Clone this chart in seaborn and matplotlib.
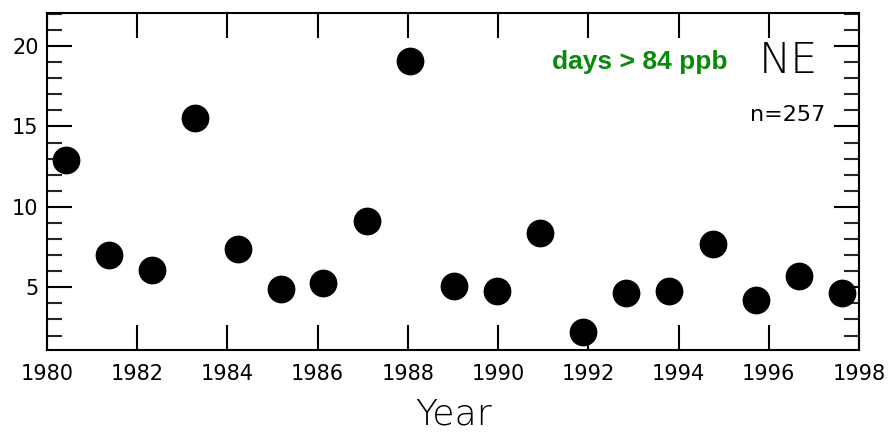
import numpy as np
import pandas as pd
import seaborn as sns
import matplotlib.pyplot as plt
from matplotlib.ticker import MultipleLocator

# days above 84 ppb per year, NE region
years = [1980.42, 1981.37, 1982.33, 1983.28, 1984.23, 1985.19, 1986.12, 1987.10,
         1988.05, 1989.02, 1989.98, 1990.93, 1991.88, 1992.84, 1993.79, 1994.77,
         1995.72, 1996.67, 1997.63]
days = [12.9, 7.0, 6.1, 15.5, 7.35, 4.9, 5.25, 9.15, 19.05, 5.1, 4.75, 8.35,
        2.2, 4.65, 4.8, 7.7, 4.2, 5.7, 4.65]

df = pd.DataFrame({'Year': years, 'Days': days})

sns.set_style('ticks')
plt.rcParams['font.family'] = ['DejaVu Sans']

fig = plt.figure(figsize=(8.92, 4.34), dpi=100)
ax = fig.add_axes([0.0527, 0.1935, 0.9103, 0.7765])

sns.scatterplot(data=df, x='Year', y='Days', ax=ax, color='black', s=400,
                edgecolor='black', linewidth=0, legend=False, clip_on=False)

ax.set_xlim(1980, 1998)
ax.set_ylim(1.1, 22.05)
ax.xaxis.set_major_locator(MultipleLocator(2))
ax.yaxis.set_major_locator(MultipleLocator(5))
ax.yaxis.set_minor_locator(MultipleLocator(1))
ax.tick_params(axis='both', which='major', direction='in', length=18, width=1.5,
               top=True, right=True, labelsize=15, colors='black')
ax.tick_params(axis='x', which='major', pad=10)
ax.tick_params(axis='y', which='major', pad=6)
ax.tick_params(axis='y', which='minor', direction='in', length=11, width=1.5,
               left=True, right=True)
ax.tick_params(axis='x', which='minor', bottom=False, top=False)
for sp in ax.spines.values():
    sp.set_linewidth(1.5)
    sp.set_color('black')

ax.set_ylabel('')
ax.set_xlabel('Year', fontsize=26, labelpad=10, fontweight='light', color='black')

ax.text(0.730, 0.855, 'days > 84 ppb', transform=ax.transAxes, color='#0a8a0a',
        fontsize=19, fontweight='bold', family=['Liberation Sans', 'DejaVu Sans'],
        ha='center', va='center')
ax.text(0.9126, 0.858, 'NE', transform=ax.transAxes, fontsize=31, fontweight='light',
        color='black', ha='center', va='center')
ax.text(0.9126, 0.697, 'n=257', transform=ax.transAxes, fontsize=16,
        color='black', ha='center', va='center')

fig.savefig('out.png', dpi=100)
